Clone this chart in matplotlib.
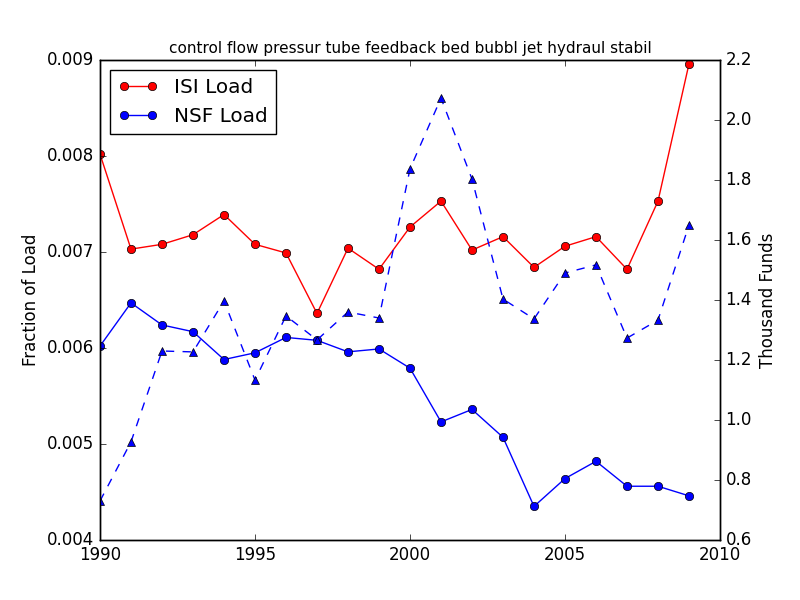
import matplotlib
matplotlib.use("Agg")
import matplotlib.pyplot as plt

plt.style.use('classic')
plt.rcParams['axes.formatter.useoffset'] = False

years = list(range(1990, 2010))
isi_load = [0.00802, 0.00703, 0.00708, 0.00718, 0.00739, 0.00708, 0.00699, 0.00636,
            0.00704, 0.00682, 0.00726, 0.00753, 0.00702, 0.00716, 0.00684, 0.00706,
            0.00716, 0.00682, 0.00753, 0.00896]
nsf_load = [0.00602, 0.00647, 0.00624, 0.00617, 0.00588, 0.00595, 0.00611, 0.00608,
            0.00596, 0.00599, 0.00579, 0.00523, 0.00536, 0.00507, 0.00435, 0.00464,
            0.00482, 0.00456, 0.00456, 0.00446]
funds = [0.73, 0.927, 1.23, 1.227, 1.397, 1.133, 1.347, 1.267, 1.36, 1.34,
         1.837, 2.073, 1.803, 1.403, 1.337, 1.49, 1.517, 1.273, 1.333, 1.65]

title = "control flow pressur tube feedback bed bubbl jet hydraul stabil"

fig = plt.figure(figsize=(8, 6), dpi=100, facecolor='white')
ax = fig.add_subplot(111)
ax.plot(years, isi_load, 'r-o', label='ISI Load')
ax.plot(years, nsf_load, 'b-o', label='NSF Load')
ax.set_ylim(0.004, 0.009)
ax.set_xlim(1990, 2010)
ax.set_ylabel('Fraction of Load')
ax.set_title(title, fontsize=11)
ax.legend(loc='upper left')

ax2 = ax.twinx()
ax2.plot(years, funds, 'b--^')
ax2.set_ylim(0.6, 2.2)
ax2.set_ylabel('Thousand Funds')
ax2.set_xlim(1990, 2010)

fig.savefig('out.png', dpi=100, facecolor='white')
